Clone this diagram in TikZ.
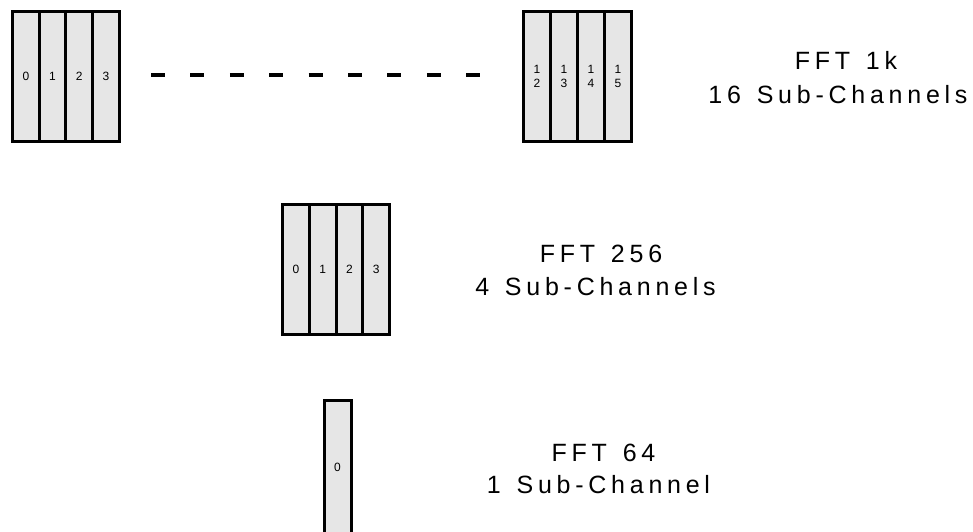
\documentclass[tikz,border=0pt]{standalone}
\usepackage{fontspec}
\setmainfont{Liberation Sans}
\newfontfamily\lblfont[LetterSpace=19,WordSpace=1.35]{Liberation Sans}
\definecolor{colfill}{RGB}{230,230,230}
\tikzset{
  col/.style={draw=black, line width=3pt, fill=colfill, inner sep=0pt,
    minimum width=26.7pt, align=center,
    font=\fontsize{12}{14.5}\selectfont},
  lbl/.style={inner sep=0pt, anchor=base, font=\lblfont\fontsize{25}{30}\selectfont},
  dashline/.style={line width=4pt, dash pattern=on 14pt off 25.4pt}
}
\begin{document}
\begin{tikzpicture}[x=1pt,y=-1pt]
\useasboundingbox (0,0) rectangle (973,531);
% block FFT 1k, left
\foreach \i/\t in {0/0,1/1,2/2,3/3}{
  \node[col, minimum height=130.5pt] (a\i) at ({12.5+13.35+26.7*\i},76.25) {\t};
}
% block FFT 1k, right
\foreach \i/\t in {0/{1\\2},1/{1\\3},2/{1\\4},3/{1\\5}}{
  \node[col, minimum height=130.5pt, minimum width=27pt] (b\i) at ({523.5+13.5+27*\i},76.25) {\t};
}
\coordinate (d1) at (151,75);
\coordinate (d2) at (482,75);
\draw[dashline] (d1) -- (d2);
% block FFT 256
\foreach \i/\t in {0/0,1/1,2/2,3/3}{
  \node[col, minimum height=129.5pt] (c\i) at ({282.5+13.4+26.8*\i},269.25) {\t};
}
% block FFT 64
\node[col, minimum height=134pt, minimum width=27pt] (e0) at (337.5,467.5) {0};
% labels
\node[lbl] (l1a) at (846,69.3) {FFT 1k};
\node[lbl] (l1b) at (838,103.3) {16 Sub-Channels};
\node[lbl] (l2a) at (601,262.7) {FFT 256};
\node[lbl] (l2b) at (595.5,295) {4 Sub-Channels};
\node[lbl] (l3a) at (603.5,461.7) {FFT 64};
\node[lbl] (l3b) at (598.5,493) {1 Sub-Channel};
\end{tikzpicture}
\end{document}
